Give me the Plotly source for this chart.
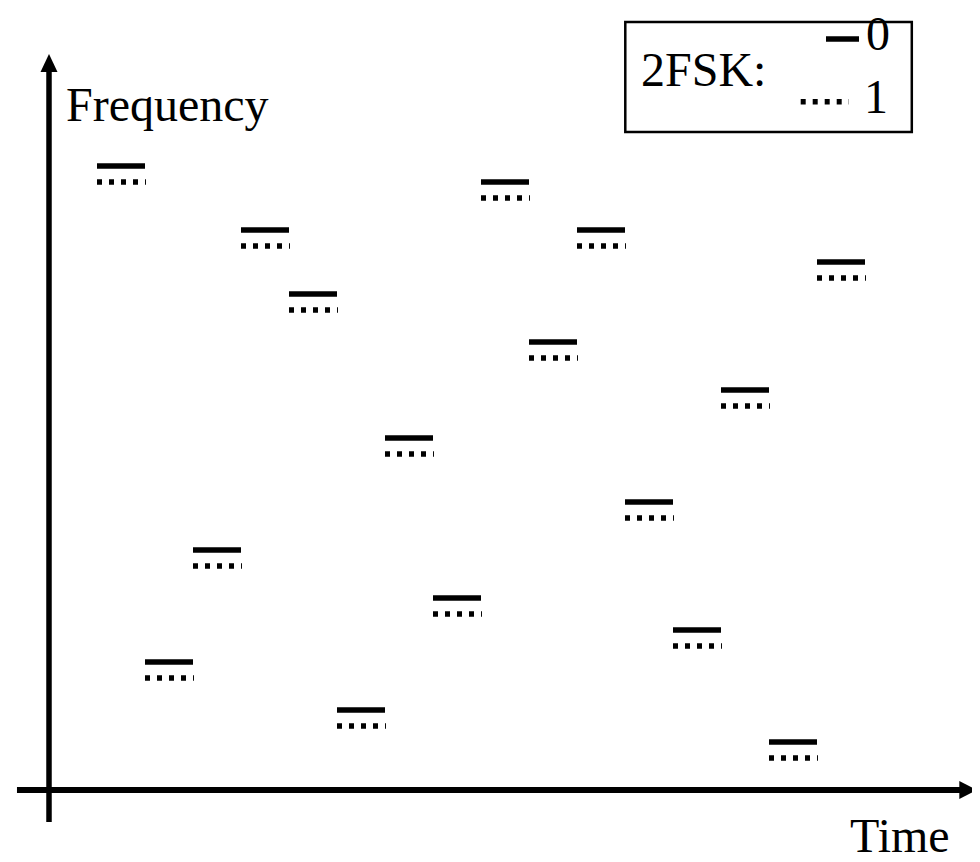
import plotly.graph_objects as go

# ---- data ----
hop_slots = list(range(16))                     # time slot index of each hop
hop_freq_bit0 = [39, 8, 15, 35, 31, 5, 22, 12, 38, 28, 35, 18, 10, 25, 3, 33]  # channel for bit 0 (solid)
bit1_offset = 1                                  # bit 1 channel lies one channel below (dotted)
legend_labels = ["0", "1"]
legend_title = "2FSK:"
x_label = "Time"
y_label = "Frequency"

FONT = "Liberation Serif, Times New Roman, serif"
FS = 48

# page has an 8px body margin; figure drawn inside it
OFF = 8
W, H = 980 - OFF, 862 - OFF
X0, Y0 = 97 - OFF, 790 - OFF       # origin (t=0, f=0) in figure pixels
DX, DY = 48, 16                    # pixels per time slot / per channel
x_range = [-X0 / DX, (W - X0) / DX]
y_range = [(Y0 - H) / DY, Y0 / DY]


def tx(px):  # page pixel x -> data t
    return (px - OFF - X0) / DX


def fy(py):  # page pixel y -> data f
    return (Y0 - (py - OFF)) / DY


# build segments
sx, sy, dx, dy = [], [], [], []
for t, f in zip(hop_slots, hop_freq_bit0):
    sx += [t, t + 1, None]
    sy += [f, f, None]
    dx += [t, t + 1.02, None]
    dy += [f - bit1_offset, f - bit1_offset, None]

fig = go.Figure()
fig.add_trace(go.Scatter(x=sx, y=sy, mode="lines", line=dict(color="black", width=5.5),
                         name=legend_labels[0], hoverinfo="skip"))
fig.add_trace(go.Scatter(x=dx, y=dy, mode="lines",
                         line=dict(color="black", width=5.5, dash="5px,7px"),
                         name=legend_labels[1], hoverinfo="skip"))

shapes = []
# vertical axis
shapes.append(dict(type="line", xref="x", yref="y", x0=-1.0, x1=-1.0, y0=-2.0, y1=45.0,
                   line=dict(color="black", width=5.5)))
shapes.append(dict(type="path", xref="x", yref="y",
                   path="M -1.177 44.88 L -0.823 44.88 L -1.0 46.0 Z",
                   fillcolor="black", line=dict(color="black", width=0)))
# horizontal axis
shapes.append(dict(type="line", xref="x", yref="y", x0=-1.667, x1=18.0, y0=0, y1=0,
                   line=dict(color="black", width=6)))
shapes.append(dict(type="path", xref="x", yref="y",
                   path="M 17.965 0.5625 L 17.965 -0.5625 L 18.327 0 Z",
                   fillcolor="black", line=dict(color="black", width=0)))
# legend box
shapes.append(dict(type="rect", xref="x", yref="y", x0=11.006, x1=16.975, y0=41.125, y1=48.0,
                   line=dict(color="black", width=2.5), fillcolor="rgba(0,0,0,0)"))
# legend samples
shapes.append(dict(type="line", xref="x", yref="y", x0=tx(826), x1=tx(859), y0=fy(39), y1=fy(39),
                   line=dict(color="black", width=5.5)))
shapes.append(dict(type="line", xref="x", yref="y", x0=tx(800.7), x1=tx(849), y0=fy(101.7), y1=fy(101.7),
                   line=dict(color="black", width=5.5, dash="5px,7px")))

annotations = [
    dict(text=y_label, x=tx(64), y=fy(104.5), xanchor="left", yanchor="middle"),
    dict(text=x_label, x=tx(848), y=fy(835), xanchor="left", yanchor="middle"),
    dict(text=legend_title, x=tx(639), y=fy(69), xanchor="left", yanchor="middle"),
    dict(text=legend_labels[0], x=tx(878), y=fy(33), xanchor="center", yanchor="middle"),
    dict(text=legend_labels[1], x=tx(876), y=fy(96.5), xanchor="center", yanchor="middle"),
]
for a in annotations:
    a.update(xref="x", yref="y", showarrow=False, font=dict(family=FONT, size=FS, color="black"))

fig.update_layout(
    width=W, height=H, margin=dict(l=0, r=0, t=0, b=0),
    paper_bgcolor="white", plot_bgcolor="white", showlegend=False,
    xaxis=dict(range=x_range, visible=False, fixedrange=True),
    yaxis=dict(range=y_range, visible=False, fixedrange=True),
    shapes=shapes, annotations=annotations,
)
fig.write_html("out.html")
